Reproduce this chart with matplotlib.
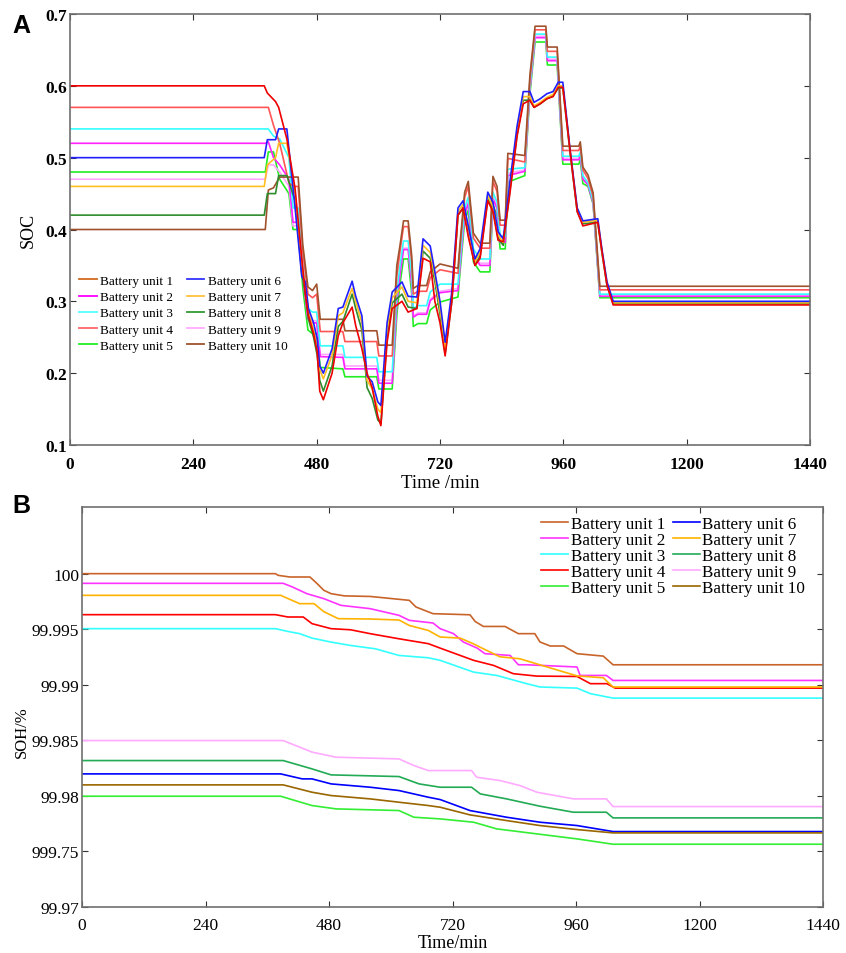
import numpy as np
import matplotlib
matplotlib.use("Agg")
import matplotlib.pyplot as plt
from matplotlib.lines import Line2D

plt.rcParams['font.family'] = ['Liberation Serif', 'DejaVu Serif']

# ---------------- panel A : SOC of the ten battery units ----------------
# units that swing with the load (minutes, SOC)
t_fast = [0, 378, 384, 400, 406, 422, 438, 451, 458, 464,
          474, 481, 486, 493, 510, 522, 531, 549, 556, 568,
          578, 588, 599, 605, 617, 627, 646, 658, 675, 687,
          701, 710, 720, 730, 743, 755, 765, 775, 788, 798,
          813, 823, 833, 843, 856, 870, 882, 895, 903, 915,
          928, 940, 950, 959, 973, 987, 998, 1027, 1035, 1045,
          1057, 1440]
soc_u6 = [0.50, 0.50, 0.525, 0.525, 0.54, 0.54, 0.43, 0.335, 0.327, 0.29,
          0.27, 0.248, 0.21, 0.20, 0.234, 0.29, 0.292, 0.328, 0.307, 0.28,
          0.196, 0.188, 0.16, 0.155, 0.27, 0.313, 0.327, 0.307, 0.306, 0.387,
          0.377, 0.341, 0.30, 0.243, 0.313, 0.43, 0.44, 0.405, 0.359, 0.373,
          0.452, 0.438, 0.397, 0.387, 0.466, 0.544, 0.592, 0.592, 0.577, 0.582,
          0.589, 0.592, 0.605, 0.605, 0.512, 0.43, 0.412, 0.415, 0.373, 0.327,
          0.30, 0.30]
soc_u7 = [0.46, 0.46, 0.49, 0.50, 0.52, 0.52, 0.45, 0.35, 0.32, 0.285,
          0.26, 0.24, 0.205, 0.192, 0.225, 0.28, 0.284, 0.318, 0.30, 0.27,
          0.19, 0.178, 0.15, 0.145, 0.26, 0.305, 0.32, 0.30, 0.298, 0.378,
          0.368, 0.335, 0.29, 0.235, 0.305, 0.425, 0.435, 0.40, 0.355, 0.368,
          0.447, 0.432, 0.392, 0.382, 0.46, 0.538, 0.585, 0.585, 0.572, 0.577,
          0.584, 0.588, 0.60, 0.60, 0.51, 0.428, 0.41, 0.413, 0.37, 0.325,
          0.298, 0.298]
soc_u8 = [0.42, 0.42, 0.45, 0.45, 0.475, 0.475, 0.44, 0.34, 0.31, 0.275,
          0.25, 0.225, 0.19, 0.175, 0.21, 0.265, 0.272, 0.31, 0.29, 0.26,
          0.18, 0.165, 0.135, 0.13, 0.25, 0.298, 0.31, 0.292, 0.29, 0.37,
          0.36, 0.328, 0.282, 0.228, 0.30, 0.42, 0.43, 0.395, 0.35, 0.363,
          0.443, 0.428, 0.388, 0.378, 0.455, 0.532, 0.58, 0.58, 0.57, 0.575,
          0.582, 0.586, 0.597, 0.597, 0.508, 0.425, 0.408, 0.41, 0.368, 0.322,
          0.297, 0.297]
soc_u10 = [0.60, 0.60, 0.59, 0.578, 0.57, 0.526, 0.457, 0.36, 0.31, 0.28,
           0.255, 0.23, 0.175, 0.163, 0.20, 0.252, 0.27, 0.292, 0.266, 0.234,
           0.20, 0.18, 0.14, 0.127, 0.243, 0.29, 0.30, 0.285, 0.29, 0.36,
           0.355, 0.30, 0.27, 0.224, 0.30, 0.42, 0.43, 0.39, 0.35, 0.36,
           0.44, 0.425, 0.385, 0.383, 0.45, 0.53, 0.575, 0.58, 0.57, 0.575,
           0.582, 0.585, 0.598, 0.598, 0.51, 0.425, 0.405, 0.41, 0.37, 0.322,
           0.295, 0.295]

# units that move in plateaus
t_plat = [0, 380, 386, 396, 408, 426, 434, 444, 453, 463,
          472, 480, 487, 531, 535, 597, 601, 627, 636, 642,
          649, 658, 665, 668, 677, 694, 701, 720, 755, 759,
          768, 775, 785, 798, 817, 823, 831, 837, 847, 852,
          885, 895, 905, 926, 929, 948, 959, 990, 993, 998,
          1008, 1018, 1031, 1440]
soc_u3 = [0.54, 0.54, 0.54, 0.53, 0.526, 0.50, 0.43, 0.43, 0.349, 0.29,
          0.285, 0.285, 0.238, 0.238, 0.222, 0.222, 0.202, 0.202, 0.313, 0.349,
          0.384, 0.384, 0.335, 0.29, 0.294, 0.294, 0.313, 0.324, 0.324, 0.359,
          0.43, 0.445, 0.373, 0.359, 0.359, 0.452, 0.438, 0.391, 0.391, 0.484,
          0.486, 0.60, 0.672, 0.672, 0.64, 0.64, 0.502, 0.502, 0.508, 0.475,
          0.465, 0.44, 0.31, 0.31]
soc_u1 = [0.40, 0.40, 0.455, 0.458, 0.473, 0.473, 0.473, 0.473, 0.379, 0.32,
          0.315, 0.324, 0.275, 0.275, 0.259, 0.259, 0.239, 0.239, 0.35, 0.377,
          0.412, 0.412, 0.363, 0.318, 0.322, 0.322, 0.341, 0.352, 0.346, 0.381,
          0.452, 0.467, 0.395, 0.381, 0.381, 0.474, 0.46, 0.413, 0.413, 0.506,
          0.503, 0.615, 0.683, 0.683, 0.654, 0.654, 0.516, 0.516, 0.522, 0.487,
          0.476, 0.451, 0.321, 0.321]
soc_u4 = [0.57, 0.57, 0.57, 0.545, 0.52, 0.465, 0.46, 0.46, 0.369, 0.31,
          0.305, 0.31, 0.258, 0.258, 0.244, 0.244, 0.224, 0.224, 0.335, 0.369,
          0.404, 0.404, 0.355, 0.31, 0.314, 0.314, 0.333, 0.344, 0.339, 0.374,
          0.445, 0.46, 0.388, 0.374, 0.374, 0.467, 0.453, 0.406, 0.406, 0.499,
          0.494, 0.608, 0.678, 0.678, 0.648, 0.648, 0.51, 0.51, 0.516, 0.483,
          0.471, 0.446, 0.316, 0.316]
soc_u2 = [0.52, 0.52, 0.522, 0.50, 0.49, 0.47, 0.41, 0.41, 0.334, 0.275,
          0.27, 0.27, 0.223, 0.222, 0.206, 0.206, 0.186, 0.186, 0.297, 0.337,
          0.372, 0.372, 0.323, 0.278, 0.282, 0.282, 0.301, 0.312, 0.315, 0.35,
          0.421, 0.436, 0.364, 0.35, 0.35, 0.443, 0.429, 0.382, 0.382, 0.475,
          0.481, 0.595, 0.667, 0.667, 0.635, 0.635, 0.497, 0.497, 0.503, 0.47,
          0.462, 0.437, 0.307, 0.307]
soc_u9 = [0.47, 0.47, 0.49, 0.49, 0.48, 0.46, 0.405, 0.405, 0.337, 0.278,
          0.273, 0.273, 0.226, 0.226, 0.21, 0.21, 0.19, 0.19, 0.301, 0.339,
          0.374, 0.374, 0.325, 0.28, 0.284, 0.284, 0.303, 0.314, 0.318, 0.353,
          0.424, 0.439, 0.367, 0.353, 0.353, 0.446, 0.432, 0.385, 0.385, 0.478,
          0.483, 0.597, 0.669, 0.669, 0.637, 0.637, 0.499, 0.499, 0.505, 0.472,
          0.464, 0.439, 0.309, 0.309]
soc_u5 = [0.48, 0.48, 0.508, 0.508, 0.47, 0.45, 0.40, 0.40, 0.319, 0.26,
          0.255, 0.255, 0.208, 0.206, 0.195, 0.195, 0.178, 0.178, 0.281, 0.324,
          0.359, 0.359, 0.31, 0.265, 0.269, 0.269, 0.288, 0.299, 0.306, 0.341,
          0.412, 0.427, 0.355, 0.341, 0.341, 0.434, 0.42, 0.373, 0.373, 0.466,
          0.475, 0.589, 0.661, 0.661, 0.629, 0.629, 0.491, 0.491, 0.497, 0.464,
          0.46, 0.435, 0.305, 0.305]

# ---------------- panel B : SOH (%) ----------------
t_h1 = [0, 376, 381, 404, 443, 457, 470, 484, 510, 560, 636, 649, 682, 754, 764,
        780, 822, 848, 880, 890, 910, 936, 962, 1013, 1032, 1440]
soh_u1 = [100.0, 100.0, 99.99985, 99.9997, 99.9997, 99.9991, 99.9985, 99.9982,
          99.998, 99.99795, 99.9976, 99.997, 99.9964, 99.9963, 99.9957, 99.99525,
          99.99525, 99.9946, 99.9946, 99.99385, 99.99349, 99.99349, 99.9928,
          99.99258, 99.9918, 99.9918]
t_h2 = [0, 391, 409, 437, 470, 503, 560, 616, 636, 682, 696, 722, 741, 768, 783,
        832, 848, 864, 962, 968, 1019, 1032, 1440]
soh_u2 = [99.99913, 99.99913, 99.9988, 99.9982, 99.99775, 99.99715, 99.99685,
          99.99625, 99.9958, 99.99556, 99.99505, 99.9946, 99.99385, 99.9933,
          99.9928, 99.99264, 99.9918, 99.9918, 99.9916, 99.99084, 99.99084,
          99.99039, 99.99039]
t_h3 = [0, 376, 400, 423, 447, 484, 522, 570, 616, 673, 696, 761, 806, 864, 890,
        962, 988, 1032, 1440]
soh_u3 = [99.99505, 99.99505, 99.9948, 99.9946, 99.9942, 99.99384, 99.99354,
          99.99324, 99.99264, 99.99243, 99.9922, 99.99114, 99.99084, 99.9901,
          99.9898, 99.9897, 99.9892, 99.9888, 99.9888]
t_h4 = [0, 376, 400, 430, 447, 484, 522, 560, 616, 673, 696, 735, 761, 800, 838,
        884, 962, 988, 1020, 1036, 1440]
soh_u4 = [99.99631, 99.99631, 99.9961, 99.9961, 99.9955, 99.99505, 99.99495,
          99.9946, 99.99414, 99.9937, 99.9933, 99.99264, 99.9922, 99.99174,
          99.991, 99.99078, 99.99075, 99.9901, 99.9901, 99.9897, 99.9897]
t_h5 = [0, 386, 447, 494, 616, 645, 696, 761, 806, 884, 962, 1032, 1440]
soh_u5 = [99.97997, 99.97997, 99.97913, 99.97883, 99.97868, 99.97808, 99.97793,
          99.97763, 99.97703, 99.97658, 99.97613, 99.97565, 99.97565]
t_h6 = [0, 386, 428, 447, 484, 560, 616, 673, 696, 754, 825, 890, 962, 1032, 1440]
soh_u6 = [99.98198, 99.98198, 99.98153, 99.98153, 99.98108, 99.98078, 99.98048,
          99.97988, 99.97967, 99.97868, 99.97808, 99.97763, 99.97733, 99.97679,
          99.97679]
t_h7 = [0, 386, 423, 451, 470, 498, 560, 616, 636, 673, 696, 735, 760, 780, 812,
        851, 896, 962, 1013, 1032, 1440]
soh_u7 = [99.99805, 99.99805, 99.9973, 99.9973, 99.99658, 99.99595, 99.99592,
          99.99583, 99.99534, 99.99489, 99.9943, 99.9942, 99.9937, 99.99324,
          99.99252, 99.99234, 99.99171, 99.9908, 99.99063, 99.9898, 99.9898]
t_h8 = [0, 391, 447, 484, 616, 655, 696, 757, 774, 825, 890, 955, 1019, 1032, 1440]
soh_u8 = [99.98318, 99.98318, 99.98243, 99.98189, 99.98174, 99.98108, 99.98078,
          99.98078, 99.98018, 99.97973, 99.97907, 99.97853, 99.97853, 99.97802,
          99.97802]
t_h9 = [0, 391, 447, 494, 616, 645, 673, 696, 757, 767, 812, 851, 884, 955, 1019,
        1032, 1440]
soh_u9 = [99.98498, 99.98498, 99.98394, 99.98348, 99.98333, 99.98273, 99.98228,
          99.98228, 99.98228, 99.98168, 99.98138, 99.98093, 99.98033, 99.97973,
          99.97973, 99.97904, 99.97904]
t_h10 = [0, 391, 447, 484, 560, 616, 673, 696, 754, 825, 890, 962, 1032, 1440]
soh_u10 = [99.98099, 99.98099, 99.98033, 99.98003, 99.97973, 99.97943, 99.97913,
           99.97898, 99.97829, 99.97778, 99.97733, 99.97697, 99.97667, 99.97667]

labels = ["Battery unit %d" % i for i in range(1, 11)]
time_ticks = [0, 240, 480, 720, 960, 1200, 1440]
soh_ticks = [99.97, 99.975, 99.98, 99.985, 99.99, 99.995, 100.0]
soh_ticklabels = ["99.97", "999.75", "99.98", "99.985", "99.99", "99.995", "100"]

spine_gray = "#707070"

fig = plt.figure(figsize=(8.46, 9.54), dpi=100)
axA = fig.add_axes([70 / 846, 1 - 446 / 954, 740 / 846, 431 / 954])
axB = fig.add_axes([82 / 846, 1 - 908 / 954, 741 / 846, 400 / 954])

# A: draw plateau units first, fast ones on top
soc_lines = [
    (t_plat, soc_u5, "#22ee22"),
    (t_plat, soc_u9, "#ffa6ff"),
    (t_plat, soc_u2, "#ff22ff"),
    (t_plat, soc_u3, "#33ffff"),
    (t_plat, soc_u4, "#ff5555"),
    (t_plat, soc_u1, "#a0522d"),
    (t_fast, soc_u8, "#2e8b2e"),
    (t_fast, soc_u7, "#ffbf20"),
    (t_fast, soc_u6, "#2020ff"),
    (t_fast, soc_u10, "#ee0000"),
]
for tt, yy, c in soc_lines:
    axA.plot(tt, yy, color=c, lw=1.2)

legA_colors = ["#d2691e", "#ff00ff", "#55ffff", "#ff6666", "#22ee22",
               "#3333ff", "#ffc040", "#339933", "#ffaaff", "#a0522d"]
handlesA = [Line2D([], [], color=c, lw=1.3) for c in legA_colors]
axA.legend(handlesA, labels, ncol=2, loc="lower left",
           bbox_to_anchor=(0.0, 0.195), frameon=False, fontsize=9.5,
           handlelength=1.35, handletextpad=0.25, columnspacing=1.0,
           labelspacing=0.3, borderaxespad=0.3)

axA.set_xlim(0, 1440)
axA.set_ylim(0.1, 0.7)
axA.set_xticks(time_ticks)
axA.set_yticks([0.1, 0.2, 0.3, 0.4, 0.5, 0.6, 0.7])
axA.set_yticklabels(["0.1", "0.2", "0.3", "0.4", "0.5", "0.6", "0.7"])
for lab in axA.get_xticklabels() + axA.get_yticklabels():
    lab.set_fontweight("bold")
axA.tick_params(direction="in", top=True, right=True, length=4,
                labelsize=12.5, color="#333333", pad=2)
axA.tick_params(axis="x", pad=8)
axA.set_xlabel("Time /min", fontsize=13.5, labelpad=1)
axA.set_ylabel("SOC", fontsize=13, labelpad=6)

# B
soh_lines = [
    (t_h1, soh_u1, "#c8642a"),
    (t_h2, soh_u2, "#ff33ff"),
    (t_h3, soh_u3, "#33ffff"),
    (t_h4, soh_u4, "#ff0000"),
    (t_h5, soh_u5, "#33ee33"),
    (t_h6, soh_u6, "#0000ff"),
    (t_h7, soh_u7, "#ffb300"),
    (t_h8, soh_u8, "#22aa55"),
    (t_h9, soh_u9, "#ffaaff"),
    (t_h10, soh_u10, "#996600"),
]
for (tt, yy, c), lab in zip(soh_lines, labels):
    axB.plot(tt, yy, color=c, lw=1.2, label=lab)

axB.legend(ncol=2, loc="upper right", bbox_to_anchor=(0.987, 1.0),
           frameon=False, fontsize=12.3,
           handlelength=1.6, handletextpad=0.12, columnspacing=0.45,
           labelspacing=0.0, borderaxespad=0.3, borderpad=0.2)

axB.set_xlim(0, 1440)
axB.set_ylim(99.97, 100.006)
axB.set_xticks(time_ticks)
axB.set_yticks(soh_ticks)
axB.set_yticklabels(soh_ticklabels)
axB.tick_params(direction="in", top=True, right=True, length=4,
                labelsize=12.5, color="#333333", pad=2)
axB.tick_params(axis="x", pad=7)
axB.set_xlabel("Time/min", fontsize=13, labelpad=1)
axB.set_ylabel("SOH/%", fontsize=12)
axB.yaxis.set_label_coords(-0.07, 0.44)

for ax in (axA, axB):
    for sp in ax.spines.values():
        sp.set_color(spine_gray)
        sp.set_linewidth(1.2)

fig.text(12 / 846, 1 - 33 / 954, "A", fontsize=18, fontweight="bold",
         family="Liberation Sans")
fig.text(12 / 846, 1 - 513 / 954, "B", fontsize=18, fontweight="bold",
         family="Liberation Sans")

fig.savefig("out.png", dpi=100)
